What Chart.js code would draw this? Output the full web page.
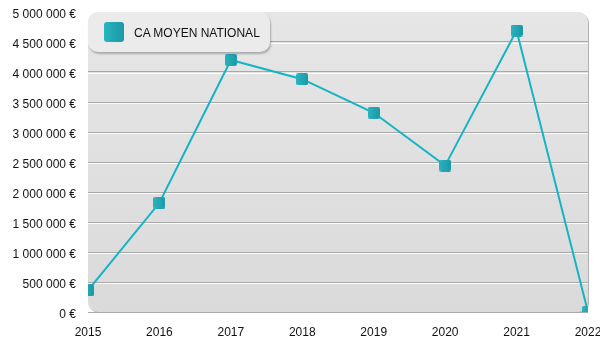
<!DOCTYPE html>
<html>
<head>
<meta charset="utf-8">
<script src="https://cdn.jsdelivr.net/npm/chart.js@4/dist/chart.umd.min.js"></script>
<style>
  body { margin: 0; background: #fff; }
  #wrap { position: relative; width: 600px; height: 350px; }
  #legend {
    position: absolute; left: 88px; top: 12px; width: 182px; height: 40px;
    background: #ebebeb; border-radius: 10px;
    box-shadow: 1px 2px 2px rgba(0, 0, 0, 0.25);
    font: 12px "Liberation Sans", Arial, sans-serif; color: #111;
  }
  #legend .box {
    position: absolute; left: 16px; top: 10px; width: 20px; height: 20px;
    border-radius: 3px; background: linear-gradient(90deg, #2ab4bf, #1a9aa6);
  }
  #legend .txt { position: absolute; left: 46px; top: 1px; line-height: 40px; }
</style>
</head>
<body>
<div id="wrap">
  <canvas id="caChart" width="600" height="350"></canvas>
  <div id="legend"></div>
</div>
<script>
var years = ['2015', '2016', '2017', '2018', '2019', '2020', '2021', '2022'];
var caMoyen = [360000, 1820000, 4200000, 3880000, 3320000, 2440000, 4690000, 0];
var seriesLabel = 'CA MOYEN NATIONAL';

var fontFamily = '"Liberation Sans", Arial, sans-serif';

function formatEuro(value) {
  return String(value).replace(/\B(?=(\d{3})+(?!\d))/g, ' ') + ' €';
}

// small square marker with a teal gradient
function makeMarker(size) {
  var c = document.createElement('canvas');
  c.width = size;
  c.height = size;
  var g = c.getContext('2d');
  var grad = g.createLinearGradient(0, 0, size, 0);
  grad.addColorStop(0, '#2ab4bf');
  grad.addColorStop(1, '#1a9aa6');
  g.fillStyle = grad;
  g.beginPath();
  g.roundRect(0, 0, size, size, 2);
  g.fill();
  return c;
}

// rounded grey panel behind the plot, drawn before the grid
var panelPlugin = {
  id: 'panel',
  beforeDraw: function (chart) {
    var a = chart.chartArea;
    var ctx = chart.ctx;
    ctx.save();
    ctx.fillStyle = '#b0b0b0';
    ctx.beginPath();
    ctx.roundRect(a.left + 1, a.top + 1, a.right - a.left, a.bottom - a.top, 10);
    ctx.fill();
    var grad = ctx.createLinearGradient(0, a.top, 0, a.bottom);
    grad.addColorStop(0, '#e6e6e6');
    grad.addColorStop(1, '#dadada');
    ctx.fillStyle = grad;
    ctx.beginPath();
    ctx.roundRect(a.left, a.top, a.right - a.left, a.bottom - a.top, 10);
    ctx.fill();
    ctx.restore();
  },
  beforeDatasetsDraw: function (chart) {
    // white highlight under each grid line
    var y = chart.scales.y;
    var a = chart.chartArea;
    var ctx = chart.ctx;
    ctx.save();
    ctx.strokeStyle = 'rgba(255,255,255,0.9)';
    ctx.lineWidth = 1;
    y.ticks.forEach(function (t) {
      if (t.value <= 0 || t.value >= y.max) return;
      var py = Math.round(y.getPixelForValue(t.value)) + 1.5;
      ctx.beginPath();
      ctx.moveTo(a.left, py);
      ctx.lineTo(a.right, py);
      ctx.stroke();
    });
    ctx.restore();
  }
};

var ctx = document.getElementById('caChart');

var chart = new Chart(ctx, {
  type: 'line',
  data: {
    labels: years,
    datasets: [{
      label: seriesLabel,
      data: caMoyen,
      borderColor: '#16b3c4',
      borderWidth: 2,
      tension: 0,
      pointStyle: makeMarker(12),
      clip: 0,
    }],
  },
  options: {
    responsive: false,
    animation: false,
    layout: { padding: { left: 0, top: 12, right: 12, bottom: 12 } },
    plugins: {
      legend: { display: false },
      tooltip: { enabled: false },
    },
    scales: {
      x: {
        offset: false,
        grid: { display: false, drawTicks: false },
        border: { display: false },
        ticks: { color: '#111', padding: 13, font: { family: fontFamily, size: 12 }, maxRotation: 0 },
        afterFit: function (scale) {
          scale.height = 26;
          scale.paddingLeft = 0;
          scale.paddingRight = 0;
        },
      },
      y: {
        min: 0,
        max: 5000000,
        border: { display: false },
        grid: {
          drawTicks: false,
          color: function (c) {
            return c.tick && c.tick.value >= 5000000 ? 'rgba(0,0,0,0)' : '#a8a8a8';
          },
        },
        ticks: {
          stepSize: 500000,
          padding: 12,
          labelOffset: 3,
          color: '#111',
          font: { family: fontFamily, size: 12 },
          callback: function (value) { return formatEuro(value); },
        },
        afterFit: function (scale) {
          scale.width = 88;
          scale.paddingTop = 0;
          scale.paddingBottom = 0;
        },
      },
    },
  },
  plugins: [panelPlugin],
});

// legend box built from the dataset
var legend = document.getElementById('legend');
chart.data.datasets.forEach(function (ds) {
  legend.innerHTML = '<span class="box"></span><span class="txt">' + ds.label + '</span>';
});
</script>
</body>
</html>
